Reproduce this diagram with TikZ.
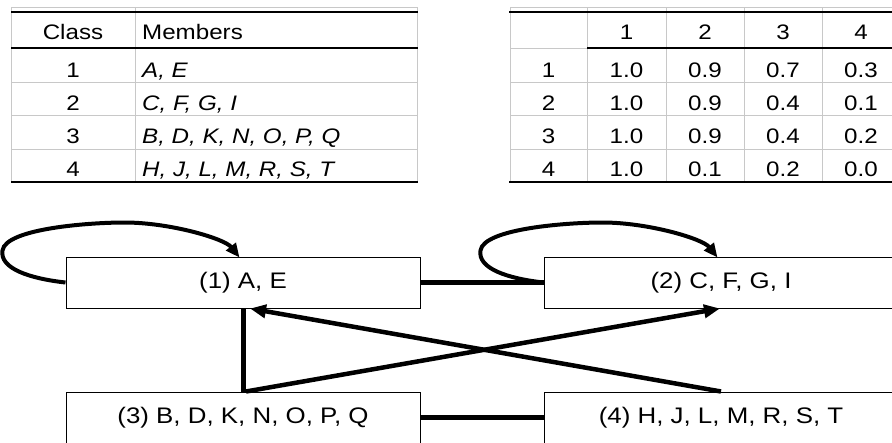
\documentclass[tikz,border=0pt]{standalone}
\usepackage{fontspec}
\setmainfont{Liberation Sans}[FakeStretch=1.15]
\usetikzlibrary{arrows.meta,calc}
\definecolor{gridgray}{RGB}{200,200,200}

\begin{document}
\begin{tikzpicture}[x=1pt,y=-1pt,
  grid/.style={draw=gridgray,line width=1pt},
  rule/.style={line width=2.6pt},
  cell/.style={inner sep=0pt,anchor=base,font=\fontsize{21}{25}\selectfont},
  member/.style={inner sep=0pt,anchor=base west,font=\fontsize{21}{25}\selectfont\itshape},
  classbox/.style={draw,line width=1pt,fill=white,minimum width=354pt,minimum height=51pt,
    inner sep=0pt,font=\fontsize{22.5}{27}\selectfont},
  link/.style={line width=5pt},
  cross/.style={line width=4.5pt,-{Triangle[length=16pt,width=13pt]}},
  selfloop/.style={line width=4pt,-{Triangle[length=14pt,width=12pt]}}]

\fill[white] (0,0) rectangle (892,442);
\useasboundingbox (0,0) rectangle (892,442);
\clip (0,0) rectangle (892,442);

% ---- class membership table ----
\draw[grid] (11,7) -- (417,7);
\foreach \x in {11,135,417} \draw[grid] (\x,7) -- (\x,182);
\foreach \y in {82,115,149} \draw[grid] (11,\y) -- (417,\y);
\foreach \y in {12,48,182} \draw[rule] (11,\y) -- (418,\y);

\node[cell] (lhc) at (73,39) {Class};
\node[member,font=\fontsize{21}{25}\selectfont] (lhm) at (142,39) {Members};
\node[cell] (lc1) at (73,77) {1};  \node[member] (lm1) at (142,77) {A, E};
\node[cell] (lc2) at (73,110) {2}; \node[member] (lm2) at (142,110) {C, F, G, I};
\node[cell] (lc3) at (73,143) {3}; \node[member] (lm3) at (142,143) {B, D, K, N, O, P, Q};
\node[cell] (lc4) at (73,176) {4}; \node[member] (lm4) at (142,176) {H, J, L, M, R, S, T};

% ---- transition table ----
\draw[grid] (510,7) -- (892,7);
\foreach \x in {510,587,666,744,822} \draw[grid] (\x,7) -- (\x,182);
\draw[grid] (510,48) -- (587,48);
\foreach \y in {82,115,149} \draw[grid] (510,\y) -- (892,\y);
\draw[rule] (509,12) -- (892,12);
\draw[rule] (587,48) -- (892,48);
\draw[rule] (509,182) -- (892,182);

\foreach \c/\x in {1/626.5,2/705,3/783,4/861}
  \node[cell] (rh\c) at (\x,39) {\c};
\foreach \r/\y/\va/\vb/\vc/\vd in {1/77/1.0/0.9/0.7/0.3,
                                  2/110/1.0/0.9/0.4/0.1,
                                  3/143/1.0/0.9/0.4/0.2,
                                  4/176/1.0/0.1/0.2/0.0}{
  \node[cell] (rr\r) at (548.5,\y) {\r};
  \node[cell] (r\r c1) at (626.5,\y) {\va};
  \node[cell] (r\r c2) at (705,\y) {\vb};
  \node[cell] (r\r c3) at (783,\y) {\vc};
  \node[cell] (r\r c4) at (861,\y) {\vd};
}

% ---- class graph ----
\node[classbox] (b1) at (243,282.5) {(1) A, E};
\node[classbox] (b2) at (721,282.5) {(2) C, F, G, I};
\node[classbox] (b3) at (243,417.5) {(3) B, D, K, N, O, P, Q};
\node[classbox] (b4) at (721,417.5) {(4) H, J, L, M, R, S, T};

\draw[link] (b1.east) -- (b2.west);
\draw[link] (b3.east) -- (b4.west);
\draw[link] (b1.south) -- (b3.north);

\draw[cross] (b4.north) -- ($(b1.south)+(7,0)$);
\draw[cross] ($(b3.north)+(3,0)$) -- ($(b2.south)+(-1,0)$);

\foreach \n in {b1,b2}
  \draw[selfloop] (\n.west)
    .. controls +(-36,-4) and +(-3,18) .. ++(-63,-32)
    .. controls +(3,-22) and +(-35,0) .. ++(122,-28)
    .. controls +(45,0) and +(-15,-19) .. ++(115,35);
\end{tikzpicture}
\end{document}
